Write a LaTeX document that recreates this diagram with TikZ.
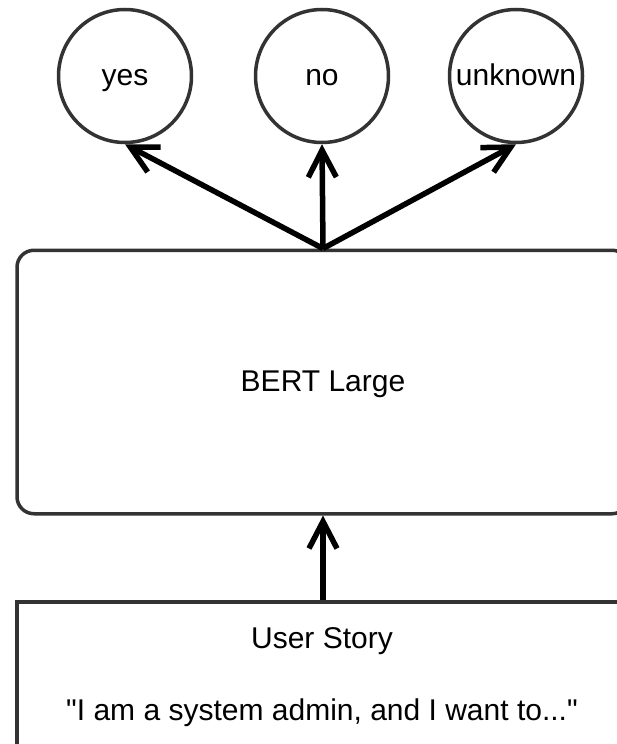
\documentclass[tikz,border=0pt]{standalone}
\usepackage{fontspec}
\setmainfont{Liberation Sans}[Ligatures=TeXOff]
\usetikzlibrary{arrows.meta}
\definecolor{edge}{HTML}{333333}
\tikzset{
  base/.style={font=\fontsize{30}{36}\selectfont, text height=21.5pt, text depth=3.5pt, inner sep=0pt},
  outcome/.style={base, circle, draw=edge, line width=3.5pt, minimum size=133pt},
  modelbox/.style={base, draw=edge, line width=3.5pt, rounded corners=17pt, minimum width=612pt, minimum height=263.5pt},
  storybox/.style={draw=edge, line width=3.5pt, minimum width=612pt, minimum height=220pt, inner sep=0pt, anchor=north},
  txt/.style={base, anchor=base},
  flow/.style={line width=5.5pt, black, -{Straight Barb[length=27pt,width=28pt]}}
}
\begin{document}
\begin{tikzpicture}[x=1pt,y=-1pt]
\useasboundingbox (0,0) rectangle (616,744);
\node[outcome] (yes) at (125,76) {yes};
\node[outcome] (no) at (322,76) {no};
\node[outcome] (unk) at (516,76) {unknown};
\node[modelbox] (bert) at (323,382) {BERT Large};
\node[storybox] (story) at (323,600) {};
\node[txt] (title) at (322,648) {User Story};
\node[txt] (quote) at (322,720) {"I am a system admin, and I want to..."};
\draw[flow] (bert.north) -- (yes.south);
\draw[flow] (bert.north) -- (no.south);
\draw[flow] (bert.north) -- (unk.south);
\draw[flow] (story.north) -- (bert.south);
\end{tikzpicture}
\end{document}
